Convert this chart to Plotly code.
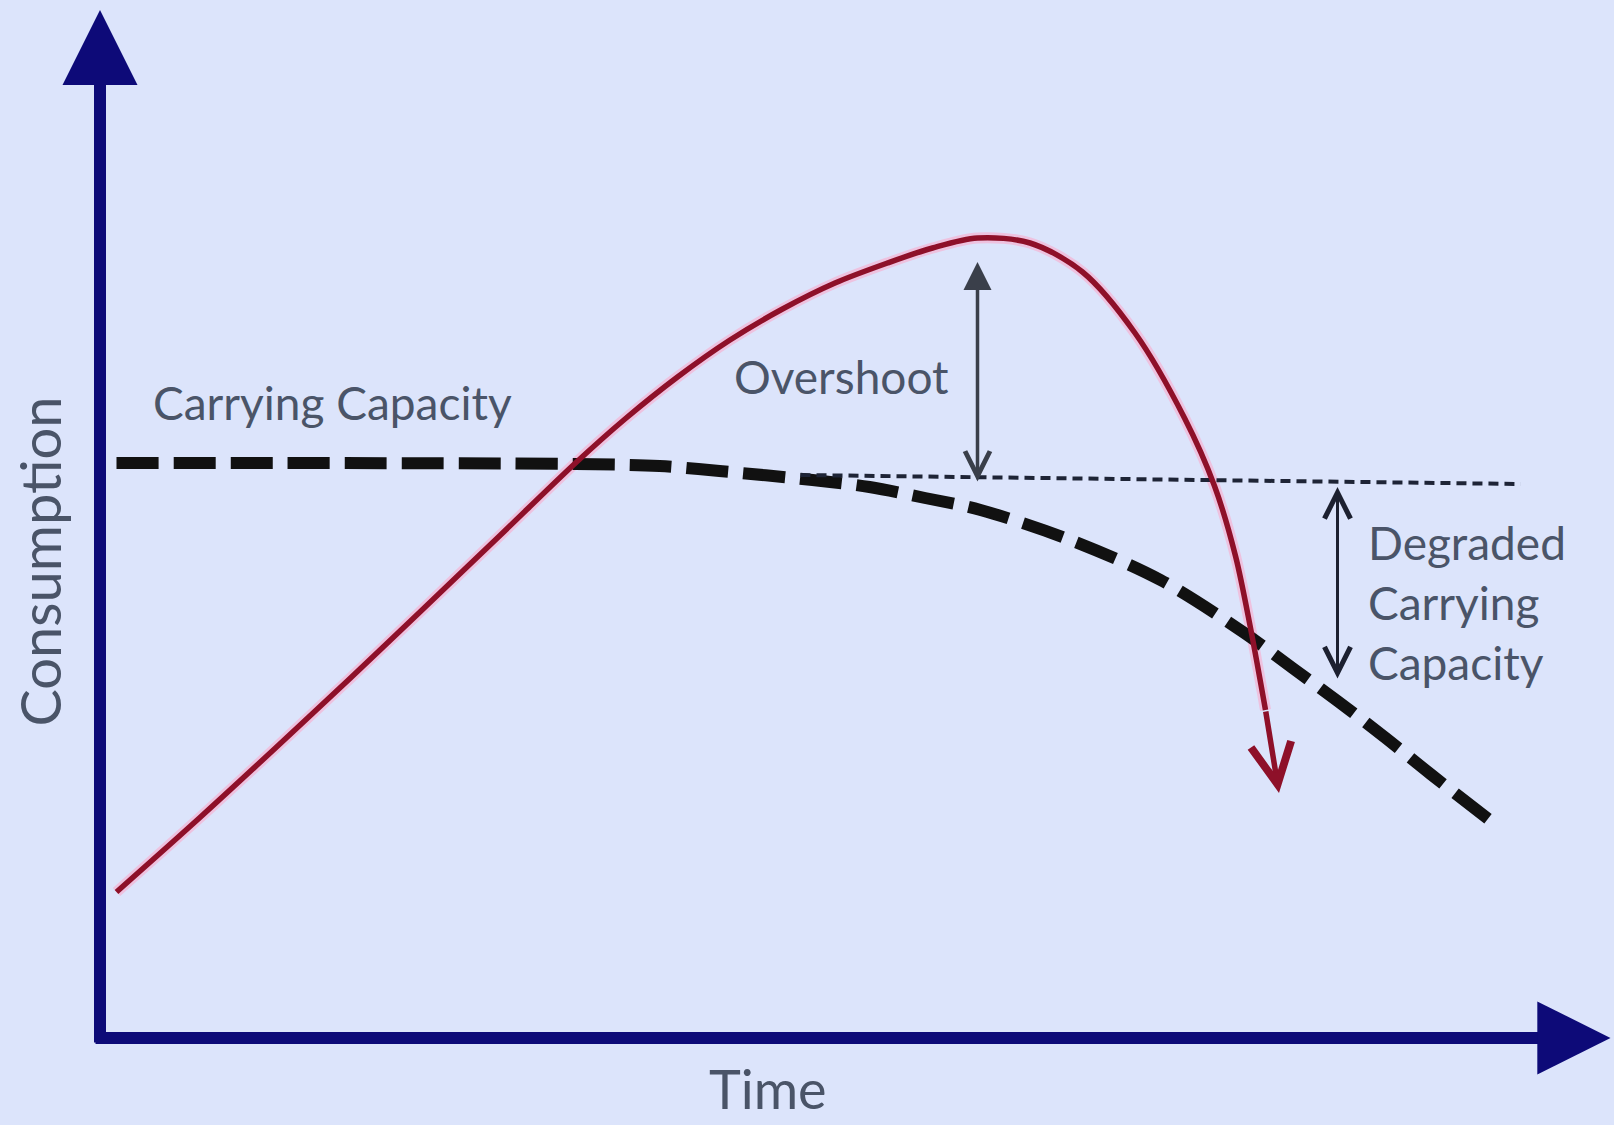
import plotly.graph_objects as go

# ---------------- data (time units vs consumption units) ----------------
# Consumption (red curve)
cons_time = [1.1, 6.7, 11.7, 16.7, 21.4, 26.7, 31.7, 35.0, 38.5, 42.0, 45.5, 49.0,
             52.5, 55.5, 58.5, 62.0, 65.5, 69.0, 72.3, 74.3, 75.7, 76.7, 77.7, 78.6]
cons_value = [14.6, 22.1, 29.0, 36.0, 42.7, 50.3, 57.5, 61.9, 66.1, 69.8, 72.9, 75.5,
              77.5, 79.0, 80.0, 79.5, 76.6, 70.5, 62.0, 55.2, 48.2, 41.0, 32.8, 24.5]

# Carrying capacity (thick dashed, degrading)
cap_time = [1.1, 31.7, 37.3, 41.3, 47.5, 51.3, 55.0, 58.7, 64.7, 70.7, 76.2, 79.5,
            82.5, 85.8, 88.7, 92.9]
cap_value = [57.5, 57.4, 57.2, 56.7, 55.8, 55.1, 54.0, 52.8, 49.8, 45.8, 40.6, 37.0,
             33.7, 29.9, 26.4, 21.5]

# Original carrying capacity (thin dotted)
orig_cap_time = [46.7, 94.7]
orig_cap_value = [56.3, 55.4]

# Double arrows: [time, top, bottom]
overshoot_arrow = [58.5, 77.6, 55.5]
degraded_arrow = [82.5, 55.1, 35.8]

# Axes extents
axis_time_end = 100.7
axis_value_end = 102.8

# Labels
x_label = "Time"
y_label = "Consumption"
label_capacity = "Carrying Capacity"
label_overshoot = "Overshoot"
label_degraded = "Degraded<br>Carrying<br>Capacity"

# ---------------- styling ----------------
BG = "#dce4fb"
AXIS = "#0d0a78"
RED = "#8e1029"
TEXT = "#4a5468"
FONT = "Lato"

fig = go.Figure()

# pink halo under red line
fig.add_trace(go.Scatter(
    x=cons_time[:-1], y=cons_value[:-1], mode="lines",
    line=dict(color="rgba(255,160,195,0.5)", width=11, shape="spline", smoothing=0.9),
    hoverinfo="skip"))

# carrying capacity (thick dashed)
fig.add_trace(go.Scatter(
    x=cap_time, y=cap_value, mode="lines",
    line=dict(color="#111111", width=12, dash="42px,15px", shape="spline", smoothing=0.9),
    hoverinfo="skip"))

# original carrying capacity (thin dotted)
fig.add_trace(go.Scatter(
    x=orig_cap_time, y=orig_cap_value, mode="lines",
    line=dict(color="#1e2436", width=4, dash="10px,6px"),
    hoverinfo="skip"))

# consumption curve
fig.add_trace(go.Scatter(
    x=cons_time[:-1], y=cons_value[:-1], mode="lines",
    line=dict(color=RED, width=5.5, shape="spline", smoothing=0.9),
    hoverinfo="skip"))

annotations = []

# red arrow head on the consumption curve
annotations.append(dict(
    x=cons_time[-1], y=cons_value[-1], ax=cons_time[-2], ay=cons_value[-2],
    xref="x", yref="y", axref="x", ayref="y", text="", showarrow=True,
    arrowhead=5, arrowwidth=5.5, arrowsize=1.45, arrowcolor=RED, standoff=0))

# y axis arrow
annotations.append(dict(
    x=0, y=axis_value_end, ax=0, ay=-0.6,
    xref="x", yref="y", axref="x", ayref="y", text="", showarrow=True,
    arrowhead=2, arrowwidth=12, arrowsize=1.25, arrowcolor=AXIS, standoff=0))

# x axis arrow
annotations.append(dict(
    x=axis_time_end, y=0, ax=-0.4, ay=0,
    xref="x", yref="y", axref="x", ayref="y", text="", showarrow=True,
    arrowhead=2, arrowwidth=12, arrowsize=1.22, arrowcolor=AXIS, standoff=0))

# overshoot double arrow
annotations.append(dict(
    x=overshoot_arrow[0], y=overshoot_arrow[1], ax=overshoot_arrow[0], ay=overshoot_arrow[2],
    xref="x", yref="y", axref="x", ayref="y", text="", showarrow=True,
    arrowside="end+start", arrowhead=2, startarrowhead=5,
    arrowwidth=3.5, arrowsize=1.6, startarrowsize=1.4, arrowcolor="#3a3f4a", standoff=0))

# degraded double arrow
annotations.append(dict(
    x=degraded_arrow[0], y=degraded_arrow[1], ax=degraded_arrow[0], ay=degraded_arrow[2],
    xref="x", yref="y", axref="x", ayref="y", text="", showarrow=True,
    arrowside="end+start", arrowhead=5, startarrowhead=5,
    arrowwidth=3, arrowsize=1.7, startarrowsize=1.7, arrowcolor="#1c2030", standoff=0))

# text labels
annotations.append(dict(x=15.5, y=63.6, xref="x", yref="y", text=label_capacity,
                        showarrow=False, font=dict(family=FONT, size=46, color=TEXT)))
annotations.append(dict(x=49.4, y=66.2, xref="x", yref="y", text=label_overshoot,
                        showarrow=False, font=dict(family=FONT, size=46, color=TEXT)))
annotations.append(dict(x=84.4, y=43.6, xref="x", yref="y", text=label_degraded,
                        xanchor="left", align="left", showarrow=False,
                        font=dict(family=FONT, size=46, color=TEXT)))
annotations.append(dict(x=-4.1, y=47.6, xref="x", yref="y", text=y_label, textangle=-90,
                        showarrow=False, font=dict(family=FONT, size=56, color=TEXT)))
annotations.append(dict(x=44.5, y=-5.0, xref="x", yref="y", text=x_label,
                        showarrow=False, font=dict(family=FONT, size=54, color=TEXT)))

fig.update_layout(
    width=1614, height=1125,
    margin=dict(l=0, r=0, t=0, b=0),
    paper_bgcolor=BG, plot_bgcolor=BG,
    showlegend=False,
    xaxis=dict(range=[-6.667, 100.933], visible=False, fixedrange=True),
    yaxis=dict(range=[-8.7, 103.8], visible=False, fixedrange=True),
    annotations=annotations,
)

fig.write_html("out.html", config={"displayModeBar": False},
               post_script="document.body.style.margin='0';document.body.style.overflow='hidden';")
